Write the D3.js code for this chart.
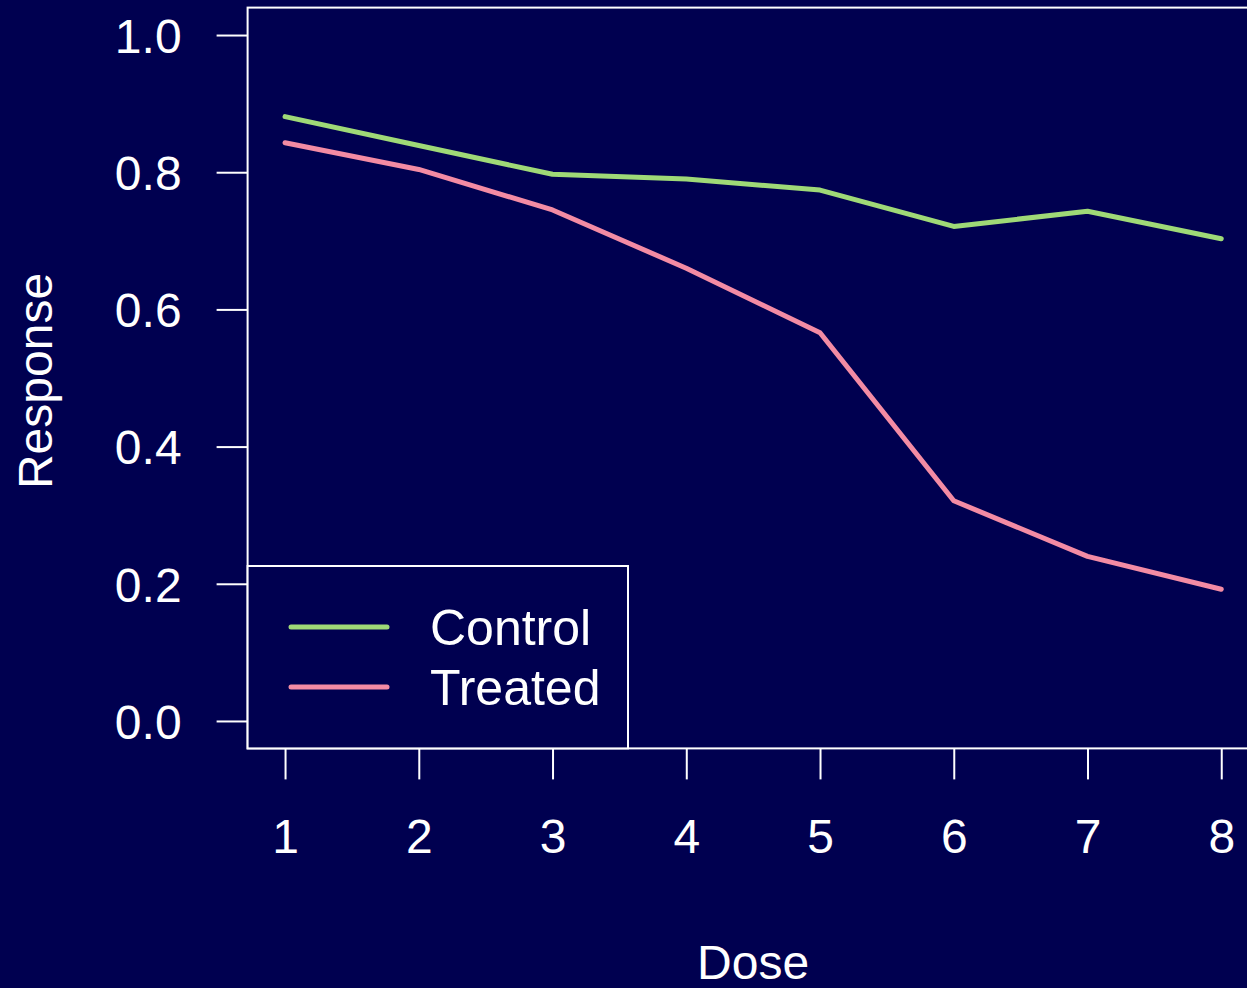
<!DOCTYPE html>
<html>
<head>
<meta charset="utf-8">
<script src="https://cdn.jsdelivr.net/npm/d3@7"></script>
<style>
  html, body { margin: 0; padding: 0; background: #000050; overflow: hidden; }
  svg { display: block; }
  text { font-family: "Liberation Sans", Arial, Helvetica, sans-serif; fill: #ffffff; }
</style>
</head>
<body>
<svg id="chart" width="1247" height="988"></svg>
<script>
// ---- data ----
const doses = [1, 2, 3, 4, 5, 6, 7, 8];
const control = [0.881, 0.839, 0.797, 0.790, 0.774, 0.721, 0.743, 0.703];
const treated = [0.843, 0.804, 0.745, 0.660, 0.566, 0.321, 0.240, 0.192];
const seriesNames = ["Control", "Treated"];
const seriesColors = ["#9fd977", "#f38ba4"];
const yTicks = [0.0, 0.2, 0.4, 0.6, 0.8, 1.0];
const xLabel = "Dose";
const yLabel = "Response";

// ---- layout ----
const W = 1247, H = 988;
const plotLeft = 247.6, plotRight = 1258.7, plotTop = 7.6, plotBottom = 748.4;
const fontSize = 48;
const legendFontSize = 50;
const tickLen = 31;

const svg = d3.select("#chart");
svg.append("rect").attr("width", W).attr("height", H).attr("fill", "#000050");

// R-style 4% padding
const xPad = (d3.max(doses) - d3.min(doses)) * 0.04;
const x = d3.scaleLinear()
  .domain([d3.min(doses) - xPad, d3.max(doses) + xPad])
  .range([plotLeft, plotRight]);
const y = d3.scaleLinear()
  .domain([-0.04, 1.04])
  .range([plotBottom, plotTop]);

// lines
const seriesData = [control, treated];
const line = d3.line().x((d, i) => x(doses[i])).y(d => y(d));
seriesData.forEach((vals, k) => {
  svg.append("path")
    .datum(vals)
    .attr("d", line)
    .attr("fill", "none")
    .attr("stroke", seriesColors[k])
    .attr("stroke-width", 5)
    .attr("stroke-linecap", "round")
    .attr("stroke-linejoin", "round");
});

// y axis
const yAxis = svg.append("g")
  .attr("transform", `translate(${plotLeft},0)`)
  .call(d3.axisLeft(y).tickValues(yTicks).tickFormat(d3.format(".1f")).tickSize(tickLen).tickPadding(35));
yAxis.select(".domain").remove();
yAxis.selectAll(".tick line").attr("stroke", "#ffffff").attr("stroke-width", 2);
yAxis.selectAll(".tick text")
  .attr("fill", "#ffffff")
  .style("font-size", fontSize + "px")
  .style("font-family", '"Liberation Sans", Arial, sans-serif')
  .attr("dy", "0.36em");

// x axis
const xAxis = svg.append("g")
  .attr("transform", `translate(0,${plotBottom})`)
  .call(d3.axisBottom(x).tickValues(doses).tickFormat(d3.format("d")).tickSize(tickLen).tickPadding(40));
xAxis.select(".domain").remove();
xAxis.selectAll(".tick line").attr("stroke", "#ffffff").attr("stroke-width", 2);
xAxis.selectAll(".tick text")
  .attr("fill", "#ffffff")
  .style("font-size", fontSize + "px")
  .style("font-family", '"Liberation Sans", Arial, sans-serif')
  .attr("dy", "0.71em");

// plot box
svg.append("rect")
  .attr("x", plotLeft).attr("y", plotTop)
  .attr("width", plotRight - plotLeft).attr("height", plotBottom - plotTop)
  .attr("fill", "none").attr("stroke", "#ffffff").attr("stroke-width", 2);

// axis titles
svg.append("text")
  .attr("x", (plotLeft + plotRight) / 2)
  .attr("y", 979)
  .attr("text-anchor", "middle")
  .style("font-size", fontSize + "px")
  .text(xLabel);

svg.append("text")
  .attr("transform", `translate(52,${(plotTop + plotBottom) / 2 + 3}) rotate(-90)`)
  .attr("text-anchor", "middle")
  .style("font-size", fontSize + "px")
  .text(yLabel);

// legend
const legX = plotLeft, legY = 566, legW = 628 - plotLeft, legH = plotBottom - 566;
svg.append("rect")
  .attr("x", legX).attr("y", legY).attr("width", legW).attr("height", legH)
  .attr("fill", "#000050").attr("stroke", "#ffffff").attr("stroke-width", 2);
const legRows = [627, 687];
seriesNames.forEach((name, k) => {
  svg.append("line")
    .attr("x1", 291).attr("x2", 387)
    .attr("y1", legRows[k]).attr("y2", legRows[k])
    .attr("stroke", seriesColors[k]).attr("stroke-width", 5)
    .attr("stroke-linecap", "round");
  svg.append("text")
    .attr("x", 430).attr("y", legRows[k] + 18)
    .style("font-size", legendFontSize + "px")
    .text(name);
});
</script>
</body>
</html>
